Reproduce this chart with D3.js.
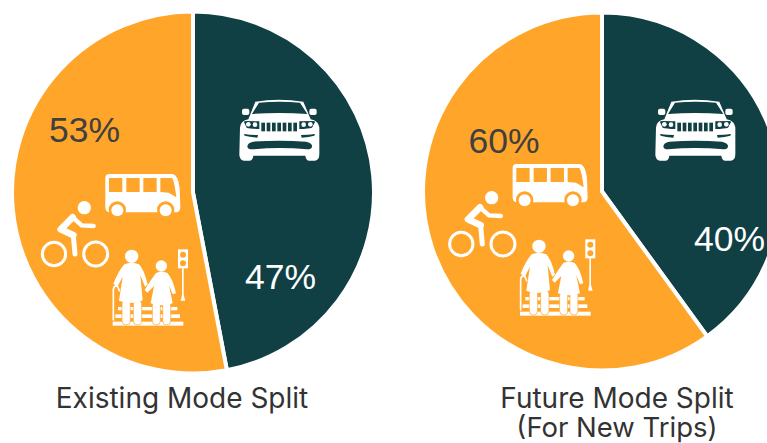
<!DOCTYPE html>
<html>
<head>
<meta charset="utf-8">
<script src="https://cdn.jsdelivr.net/npm/d3@7"></script>
<style>
html, body { margin: 0; padding: 0; background: #fff; overflow: hidden; }
text { font-family: Inter, "Noto Sans", sans-serif; }
text.pct { font-family: "Liberation Sans", Arial, sans-serif; }
</style>
</head>
<body>
<script>
const WIDTH = 767
const HEIGHT = 443

const MODES = ['Driving', 'Other']
const EXISTING = [47, 53]
const FUTURE = [40, 60]
const COLORS = ['#103F44', '#FFA52A']
const WHITE = '#fff'
const ORANGE = COLORS[1]
const TEAL = COLORS[0]

const svg = d3.select('body').append('svg').attr('width', WIDTH).attr('height', HEIGHT)

const pie = d3.pie().sort(null).value(d => d)
const color = d3.scaleOrdinal().domain(MODES).range(COLORS)

function drawPie(values, cx, cy, r) {
    const arc = d3.arc().innerRadius(0).outerRadius(r)
    svg.append('g')
        .attr('transform', `translate(${cx},${cy})`)
        .selectAll('path')
        .data(pie(values))
        .enter()
        .append('path')
        .attr('d', arc)
        .attr('fill', (d, i) => color(MODES[i]))
        .attr('stroke', WHITE)
        .attr('stroke-width', 4)
        .attr('stroke-linejoin', 'miter')
}

// icons are drawn in the coordinates of a 3x crop, hence the scale
function drawCar(x, y) {
    const g = svg.append('g').attr('transform', `translate(${x},${y}) scale(${1 / 3})`)
    g.append('path').attr('fill', WHITE)
        .attr('d', 'M60 112 Q62 92 85 88 L106 35 Q175 24 250 35 L272 88 Q295 92 298 112 L298 192 Q298 210 285 212 L268 212 Q258 212 256 197 L100 197 Q98 212 88 212 L72 212 Q60 212 58 195 Z')
    g.append('rect').attr('x', 66).attr('y', 56).attr('width', 22).attr('height', 19).attr('rx', 6).attr('fill', WHITE)
    g.append('rect').attr('x', 268).attr('y', 56).attr('width', 22).attr('height', 19).attr('rx', 6).attr('fill', WHITE)
    g.append('path').attr('fill', TEAL).attr('d', 'M117 38 Q178 33 240 38 L262 72 Q178 66 96 72 Z')
    g.append('path').attr('fill', TEAL).attr('d', 'M72 96 Q72 93 78 93 L118 94 L118 117 Q90 116 80 113 Z')
    g.append('path').attr('fill', TEAL).attr('d', 'M285 96 Q285 93 279 93 L238 94 L238 117 Q266 116 276 113 Z')
    g.append('circle').attr('cx', 85).attr('cy', 103).attr('r', 7).attr('fill', WHITE)
    g.append('circle').attr('cx', 105).attr('cy', 104).attr('r', 7).attr('fill', WHITE)
    g.append('circle').attr('cx', 251).attr('cy', 104).attr('r', 7).attr('fill', WHITE)
    g.append('circle').attr('cx', 271).attr('cy', 103).attr('r', 7).attr('fill', WHITE)
    d3.range(7).forEach(i => {
        g.append('rect').attr('x', 124 + i * 16).attr('y', 98).attr('width', 11).attr('height', 26).attr('fill', TEAL)
    })
    g.append('path').attr('fill', TEAL).attr('d', 'M72 132 Q92 135 114 135 L112 143 Q90 141 74 137 Z')
    g.append('path').attr('fill', TEAL).attr('d', 'M285 132 Q265 135 243 135 L245 143 Q267 141 283 137 Z')
    g.append('path').attr('fill', TEAL).attr('d', 'M100 155 Q178 149 258 155 Q278 160 276 170 Q274 178 262 178 Q178 170 96 178 Q84 178 82 170 Q82 158 100 155 Z')
}

function drawOthers(x, y) {
    const g = svg.append('g').attr('transform', `translate(${x},${y}) scale(${1 / 3})`)

    // bus
    g.append('path').attr('fill', WHITE)
        .attr('d', 'M238 42 L428 42 Q444 44 449 85 L451 142 Q451 157 438 157 L240 157 Q226 157 226 142 L226 54 Q226 42 238 42 Z')
    ;[237, 289, 340].forEach(wx => {
        g.append('rect').attr('x', wx).attr('y', 54).attr('width', 40).attr('height', 42).attr('fill', ORANGE)
    })
    g.append('path').attr('fill', ORANGE).attr('d', 'M391 54 L425 54 Q432 56 439 112 L416 98 L391 96 Z')
    ;[262, 407].forEach(wx => {
        g.append('circle').attr('cx', wx).attr('cy', 150).attr('r', 26).attr('fill', ORANGE)
        g.append('circle').attr('cx', wx).attr('cy', 151).attr('r', 18).attr('fill', WHITE)
    })

    // cyclist
    g.append('circle').attr('cx', 163).attr('cy', 143).attr('r', 20).attr('fill', WHITE)
    g.append('path').attr('fill', 'none').attr('stroke', WHITE).attr('stroke-width', 20)
        .attr('stroke-linecap', 'round').attr('stroke-linejoin', 'round')
        .attr('d', 'M128 172 L92 208 L130 226')
    g.append('path').attr('fill', 'none').attr('stroke', WHITE).attr('stroke-width', 15)
        .attr('stroke-linecap', 'round').attr('stroke-linejoin', 'round')
        .attr('d', 'M130 226 L135 282')
    g.append('path').attr('fill', 'none').attr('stroke', WHITE).attr('stroke-width', 13)
        .attr('stroke-linecap', 'round').attr('stroke-linejoin', 'round')
        .attr('d', 'M128 172 L155 196 L191 198')
    ;[[72, 35], [197, 36]].forEach(w => {
        g.append('circle').attr('cx', w[0]).attr('cy', 282).attr('r', w[1])
            .attr('fill', 'none').attr('stroke', WHITE).attr('stroke-width', 9)
    })

    // crossing
    g.append('rect').attr('x', 248).attr('y', 485).attr('width', 212).attr('height', 12).attr('fill', WHITE)
    g.append('rect').attr('x', 256).attr('y', 463).attr('width', 194).attr('height', 11).attr('fill', WHITE)
    g.append('rect').attr('x', 264).attr('y', 441).attr('width', 178).attr('height', 10).attr('fill', WHITE)

    // first person
    ;[276, 310].forEach(lx => {
        g.append('rect').attr('x', lx).attr('y', 420).attr('width', 25).attr('height', 75).attr('rx', 12)
            .attr('fill', WHITE).attr('stroke', ORANGE).attr('stroke-width', 2)
    })
    g.append('circle').attr('cx', 305).attr('cy', 289).attr('r', 20).attr('fill', WHITE)
    g.append('path').attr('fill', WHITE)
        .attr('d', 'M283 313 Q305 305 327 313 Q342 328 353 374 L345 380 L331 346 L338 421 Q302 436 267 422 L278 350 L262 381 L250 371 Q266 332 283 313 Z')
    g.append('path').attr('fill', 'none').attr('stroke', WHITE).attr('stroke-width', 5)
        .attr('stroke-linecap', 'round')
        .attr('d', 'M250 480 L250 388 Q252 376 262 378 L268 392')

    // second person
    ;[367, 398].forEach(lx => {
        g.append('rect').attr('x', lx).attr('y', 425).attr('width', 24).attr('height', 70).attr('rx', 12)
            .attr('fill', WHITE).attr('stroke', ORANGE).attr('stroke-width', 2)
    })
    g.append('circle').attr('cx', 394).attr('cy', 318).attr('r', 17).attr('fill', WHITE)
    g.append('path').attr('fill', WHITE)
        .attr('d', 'M378 339 Q395 331 412 339 Q428 355 438 400 L428 403 L417 375 L428 430 Q395 442 362 430 L372 378 L352 398 L344 390 Q362 360 378 339 Z')

    // traffic light
    g.append('rect').attr('x', 444).attr('y', 268).attr('width', 30).attr('height', 57).attr('fill', WHITE)
    g.append('circle').attr('cx', 459).attr('cy', 284).attr('r', 9).attr('fill', ORANGE)
    g.append('circle').attr('cx', 459).attr('cy', 310).attr('r', 9).attr('fill', ORANGE)
    g.append('rect').attr('x', 456).attr('y', 325).attr('width', 5).attr('height', 85).attr('fill', WHITE)
    g.append('path').attr('fill', WHITE).attr('d', 'M456 405 L461 405 L466 422 L452 422 Z')
}

function label(txt, x, y, size, fill, cls) {
    svg.append('text')
        .attr('class', cls)
        .attr('x', x).attr('y', y)
        .attr('text-anchor', 'middle')
        .attr('font-size', size)
        .attr('fill', fill)
        .text(txt)
}

drawPie(EXISTING, 193, 192.5, 181)
drawPie(FUTURE, 602, 191.5, 179)

drawCar(220, 90)
drawCar(636, 90)
drawOthers(30, 160)
drawOthers(437.3, 150)

label(EXISTING[1] + '%', 84.5, 142, 35.5, '#404040', 'pct')
label(EXISTING[0] + '%', 280.5, 289, 35.5, WHITE, 'pct')
label(FUTURE[1] + '%', 504, 153, 35.5, '#404040', 'pct')
label(FUTURE[0] + '%', 729.5, 251, 35.5, WHITE, 'pct')

label('Existing Mode Split', 182, 408, 28, '#333', 'title')
label('Future Mode Split', 617, 408, 28, '#333', 'title')
label('(For New Trips)', 617, 437, 27.5, '#333', 'title')
</script>
</body>
</html>
